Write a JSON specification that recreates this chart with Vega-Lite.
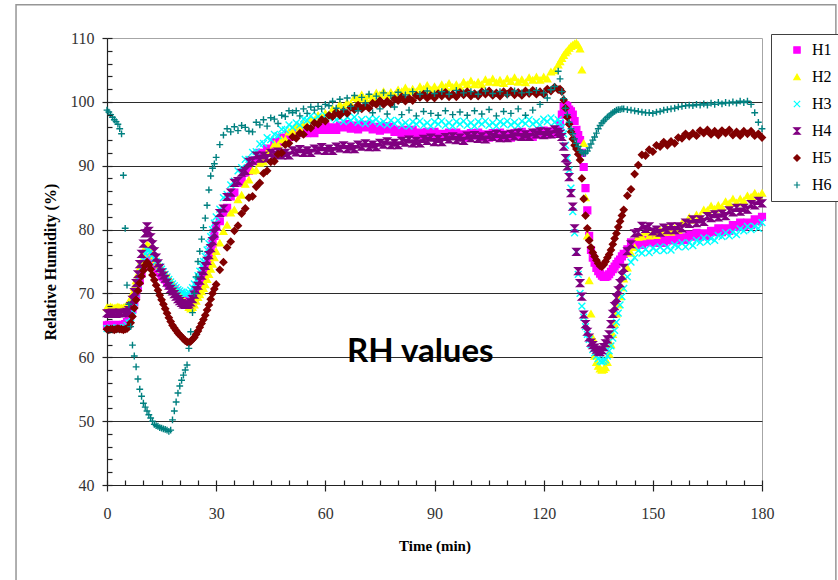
{
  "$schema": "https://vega.github.io/schema/vega-lite/v6.json",
  "width": 655,
  "height": 447,
  "autosize": {"type": "none"},
  "padding": {"left": 107, "top": 38, "right": 76, "bottom": 95},
  "background": "white",
  "config": {
    "view": {"stroke": "#a6a6a6", "strokeWidth": 1}
  },
  "datasets": {
    "readings": [
      {"t":0,"H1":65.0,"H2":67.8,"H3":64.5,"H4":66.9,"H5":64.4,"H6":98.7},
      {"t":0.5,"H1":65.1,"H2":67.7,"H3":64.5,"H4":66.8,"H5":64.3,"H6":98.4},
      {"t":1,"H1":65.0,"H2":67.9,"H3":64.6,"H4":66.9,"H5":64.4,"H6":98.0},
      {"t":1.5,"H1":64.9,"H2":67.8,"H3":64.5,"H4":67.0,"H5":64.4,"H6":97.6},
      {"t":2,"H1":65.0,"H2":67.7,"H3":64.4,"H4":66.9,"H5":64.3,"H6":97.2},
      {"t":2.5,"H1":65.1,"H2":67.8,"H3":64.5,"H4":66.8,"H5":64.4,"H6":96.9},
      {"t":3,"H1":65.0,"H2":67.9,"H3":64.6,"H4":66.9,"H5":64.5,"H6":96.5},
      {"t":3.5,"H1":64.9,"H2":67.8,"H3":64.5,"H4":67.0,"H5":64.4,"H6":95.8},
      {"t":4,"H1":65.0,"H2":67.7,"H3":64.5,"H4":66.9,"H5":64.4,"H6":95.0},
      {"t":4.5,"H1":65.1,"H2":67.8,"H3":64.6,"H4":66.9,"H5":64.3,"H6":88.5},
      {"t":5,"H1":65.2,"H2":67.9,"H3":64.7,"H4":67.0,"H5":64.4,"H6":80.2},
      {"t":5.5,"H1":65.5,"H2":68.1,"H3":65.0,"H4":67.1,"H5":64.5,"H6":71.3},
      {"t":6,"H1":65.9,"H2":68.5,"H3":65.4,"H4":67.4,"H5":64.8,"H6":68.3},
      {"t":6.5,"H1":66.6,"H2":69.2,"H3":66.2,"H4":68.0,"H5":65.4,"H6":64.8},
      {"t":7,"H1":67.5,"H2":70.0,"H3":67.3,"H4":69.0,"H5":66.4,"H6":61.9},
      {"t":7.5,"H1":68.6,"H2":71.0,"H3":68.6,"H4":70.2,"H5":67.7,"H6":60.2},
      {"t":8,"H1":69.8,"H2":72.0,"H3":70.0,"H4":71.6,"H5":69.0,"H6":58.5},
      {"t":8.5,"H1":70.9,"H2":73.0,"H3":71.5,"H4":73.0,"H5":70.4,"H6":56.6},
      {"t":9,"H1":72.0,"H2":74.0,"H3":72.8,"H4":74.6,"H5":71.6,"H6":55.0},
      {"t":9.5,"H1":73.1,"H2":75.1,"H3":74.0,"H4":76.2,"H5":72.7,"H6":53.9},
      {"t":10,"H1":74.2,"H2":76.2,"H3":75.2,"H4":77.8,"H5":73.6,"H6":52.8},
      {"t":10.5,"H1":75.0,"H2":77.1,"H3":76.2,"H4":79.4,"H5":74.4,"H6":52.2},
      {"t":11,"H1":75.6,"H2":77.6,"H3":76.8,"H4":80.5,"H5":74.9,"H6":51.6},
      {"t":11.5,"H1":75.5,"H2":77.4,"H3":76.8,"H4":79.8,"H5":74.5,"H6":51.0},
      {"t":12,"H1":75.2,"H2":77.0,"H3":76.5,"H4":78.8,"H5":73.8,"H6":50.5},
      {"t":12.5,"H1":74.8,"H2":76.4,"H3":76.0,"H4":77.7,"H5":72.9,"H6":50.0},
      {"t":13,"H1":74.5,"H2":75.9,"H3":75.5,"H4":76.6,"H5":72.1,"H6":49.5},
      {"t":13.5,"H1":74.1,"H2":75.3,"H3":75.0,"H4":75.6,"H5":71.3,"H6":49.3},
      {"t":14,"H1":73.8,"H2":74.8,"H3":74.6,"H4":74.7,"H5":70.5,"H6":49.2},
      {"t":14.5,"H1":73.3,"H2":74.3,"H3":74.2,"H4":74.0,"H5":69.7,"H6":49.0},
      {"t":15,"H1":72.8,"H2":73.8,"H3":73.8,"H4":73.3,"H5":69.0,"H6":48.9},
      {"t":15.5,"H1":72.5,"H2":73.4,"H3":73.4,"H4":72.8,"H5":68.3,"H6":48.8},
      {"t":16,"H1":72.2,"H2":73.0,"H3":73.0,"H4":72.3,"H5":67.6,"H6":48.7},
      {"t":16.5,"H1":71.8,"H2":72.6,"H3":72.6,"H4":71.7,"H5":66.9,"H6":48.6},
      {"t":17,"H1":71.5,"H2":72.3,"H3":72.2,"H4":71.2,"H5":66.2,"H6":48.4},
      {"t":17.5,"H1":71.2,"H2":71.9,"H3":71.8,"H4":70.7,"H5":65.6,"H6":48.6},
      {"t":18,"H1":70.9,"H2":71.5,"H3":71.5,"H4":70.3,"H5":65.0,"H6":50.2},
      {"t":18.5,"H1":70.6,"H2":71.0,"H3":71.2,"H4":69.9,"H5":64.6,"H6":51.6},
      {"t":19,"H1":70.3,"H2":70.6,"H3":70.9,"H4":69.5,"H5":64.2,"H6":53.0},
      {"t":19.5,"H1":70.0,"H2":70.2,"H3":70.6,"H4":69.1,"H5":63.8,"H6":54.4},
      {"t":20,"H1":69.8,"H2":69.9,"H3":70.4,"H4":68.8,"H5":63.5,"H6":55.5},
      {"t":20.5,"H1":69.6,"H2":69.4,"H3":70.2,"H4":68.5,"H5":63.2,"H6":56.4},
      {"t":21,"H1":69.4,"H2":69.0,"H3":70.0,"H4":68.3,"H5":62.9,"H6":57.2},
      {"t":21.5,"H1":69.2,"H2":68.6,"H3":69.9,"H4":68.2,"H5":62.6,"H6":58.0},
      {"t":22,"H1":69.1,"H2":68.2,"H3":70.0,"H4":68.2,"H5":62.4,"H6":58.8},
      {"t":22.5,"H1":69.1,"H2":67.8,"H3":70.2,"H4":68.3,"H5":62.3,"H6":61.4},
      {"t":23,"H1":69.3,"H2":67.6,"H3":70.5,"H4":68.6,"H5":62.5,"H6":64.0},
      {"t":23.5,"H1":69.6,"H2":67.8,"H3":70.9,"H4":69.1,"H5":62.8,"H6":67.0},
      {"t":24,"H1":70.0,"H2":68.2,"H3":71.5,"H4":69.8,"H5":63.1,"H6":70.0},
      {"t":24.5,"H1":70.5,"H2":68.8,"H3":72.1,"H4":70.5,"H5":63.6,"H6":72.6},
      {"t":25,"H1":71.0,"H2":69.4,"H3":72.8,"H4":71.2,"H5":64.1,"H6":75.0},
      {"t":25.5,"H1":71.6,"H2":69.8,"H3":73.5,"H4":72.0,"H5":64.7,"H6":76.6},
      {"t":26,"H1":72.3,"H2":70.3,"H3":74.3,"H4":72.8,"H5":65.3,"H6":78.5},
      {"t":26.5,"H1":72.9,"H2":70.8,"H3":75.0,"H4":73.5,"H5":65.9,"H6":80.3},
      {"t":27,"H1":73.6,"H2":71.4,"H3":75.8,"H4":74.3,"H5":66.6,"H6":81.8},
      {"t":27.5,"H1":74.5,"H2":72.2,"H3":76.8,"H4":75.1,"H5":67.4,"H6":83.8},
      {"t":28,"H1":75.5,"H2":73.0,"H3":77.8,"H4":76.0,"H5":68.2,"H6":86.2},
      {"t":28.5,"H1":76.6,"H2":73.8,"H3":78.9,"H4":77.1,"H5":69.1,"H6":88.4},
      {"t":29,"H1":77.8,"H2":74.6,"H3":80.0,"H4":78.2,"H5":70.0,"H6":89.6},
      {"t":29.5,"H1":79.0,"H2":75.6,"H3":81.0,"H4":79.4,"H5":70.7,"H6":90.3},
      {"t":30,"H1":80.4,"H2":76.6,"H3":82.0,"H4":80.6,"H5":71.4,"H6":91.3},
      {"t":31,"H1":81.3,"H2":77.9,"H3":83.2,"H4":82.6,"H5":73.7,"H6":93.3},
      {"t":32,"H1":82.7,"H2":79.7,"H3":85.0,"H4":83.3,"H5":74.9,"H6":94.8},
      {"t":33,"H1":83.4,"H2":80.7,"H3":85.5,"H4":85.1,"H5":77.2,"H6":95.8},
      {"t":34,"H1":85.2,"H2":82.6,"H3":87.0,"H4":85.8,"H5":78.1,"H6":95.3},
      {"t":35,"H1":85.8,"H2":83.1,"H3":87.6,"H4":87.3,"H5":79.8,"H6":96.1},
      {"t":36,"H1":87.3,"H2":84.7,"H3":89.2,"H4":87.6,"H5":80.6,"H6":95.5},
      {"t":37,"H1":87.6,"H2":85.4,"H3":89.7,"H4":88.9,"H5":82.5,"H6":96.3},
      {"t":38,"H1":88.9,"H2":87.1,"H3":91.0,"H4":89.2,"H5":83.3,"H6":96.0},
      {"t":39,"H1":89.2,"H2":87.8,"H3":91.0,"H4":90.6,"H5":85.0,"H6":95.4},
      {"t":40,"H1":90.7,"H2":89.2,"H3":92.1,"H4":90.8,"H5":85.2,"H6":95.3},
      {"t":41,"H1":90.9,"H2":89.3,"H3":92.2,"H4":91.6,"H5":86.7,"H6":96.8},
      {"t":42,"H1":92.0,"H2":90.4,"H3":93.4,"H4":91.1,"H5":87.3,"H6":96.4},
      {"t":43,"H1":91.8,"H2":90.6,"H3":93.5,"H4":91.6,"H5":88.8,"H6":97.2},
      {"t":44,"H1":92.7,"H2":92.1,"H3":94.4,"H4":91.2,"H5":89.2,"H6":96.2},
      {"t":45,"H1":92.6,"H2":92.3,"H3":94.1,"H4":92.0,"H5":90.6,"H6":97.5},
      {"t":46,"H1":93.7,"H2":93.4,"H3":94.9,"H4":91.7,"H5":90.7,"H6":97.3},
      {"t":47,"H1":93.7,"H2":93.2,"H3":94.7,"H4":92.2,"H5":91.8,"H6":96.6},
      {"t":48,"H1":94.4,"H2":94.1,"H3":95.7,"H4":91.6,"H5":92.0,"H6":97.9},
      {"t":49,"H1":94.1,"H2":94.1,"H3":95.6,"H4":92.0,"H5":93.3,"H6":97.7},
      {"t":50,"H1":94.8,"H2":95.3,"H3":96.4,"H4":91.6,"H5":93.5,"H6":98.6},
      {"t":51,"H1":94.5,"H2":95.3,"H3":96.0,"H4":92.4,"H5":94.5,"H6":98.3},
      {"t":52,"H1":95.4,"H2":96.2,"H3":96.7,"H4":92.1,"H5":94.3,"H6":98.6},
      {"t":53,"H1":95.1,"H2":95.8,"H3":96.4,"H4":92.6,"H5":95.1,"H6":97.8},
      {"t":54,"H1":95.7,"H2":96.5,"H3":97.3,"H4":92.0,"H5":94.9,"H6":98.9},
      {"t":55,"H1":95.1,"H2":96.3,"H3":97.1,"H4":92.4,"H5":96.0,"H6":98.2},
      {"t":56,"H1":95.5,"H2":97.2,"H3":97.8,"H4":92.0,"H5":95.9,"H6":99.2},
      {"t":57,"H1":95.1,"H2":97.1,"H3":97.2,"H4":92.7,"H5":96.7,"H6":98.7},
      {"t":58,"H1":95.9,"H2":97.9,"H3":97.7,"H4":92.4,"H5":96.5,"H6":99.3},
      {"t":59,"H1":95.6,"H2":97.5,"H3":97.2,"H4":92.9,"H5":97.2,"H6":98.9},
      {"t":60,"H1":96.2,"H2":98.2,"H3":97.9,"H4":92.3,"H5":97.0,"H6":99.6},
      {"t":61,"H1":95.6,"H2":97.9,"H3":97.5,"H4":92.7,"H5":97.9,"H6":99.4},
      {"t":62,"H1":96.0,"H2":98.9,"H3":97.9,"H4":92.3,"H5":97.7,"H6":100.1},
      {"t":63,"H1":95.6,"H2":98.8,"H3":97.2,"H4":93.0,"H5":98.4,"H6":99.0},
      {"t":64,"H1":96.3,"H2":99.6,"H3":97.5,"H4":92.7,"H5":97.9,"H6":100.4},
      {"t":65,"H1":96.0,"H2":99.2,"H3":96.9,"H4":93.2,"H5":98.5,"H6":98.8},
      {"t":66,"H1":96.5,"H2":99.9,"H3":97.6,"H4":92.6,"H5":98.2,"H6":100.6},
      {"t":67,"H1":95.8,"H2":99.7,"H3":97.1,"H4":93.0,"H5":99.1,"H6":99.3},
      {"t":68,"H1":96.3,"H2":100.7,"H3":97.6,"H4":92.6,"H5":98.8,"H6":101.0},
      {"t":69,"H1":95.7,"H2":100.5,"H3":96.8,"H4":93.3,"H5":99.5,"H6":98.6},
      {"t":70,"H1":96.4,"H2":101.1,"H3":97.2,"H4":93.0,"H5":98.9,"H6":100.7},
      {"t":71,"H1":96.0,"H2":100.5,"H3":96.6,"H4":93.5,"H5":99.4,"H6":99.8},
      {"t":72,"H1":96.4,"H2":101.0,"H3":97.3,"H4":92.9,"H5":99.0,"H6":101.2},
      {"t":73,"H1":95.7,"H2":100.6,"H3":96.9,"H4":93.3,"H5":99.8,"H6":98.3},
      {"t":74,"H1":96.1,"H2":101.4,"H3":97.3,"H4":92.9,"H5":99.6,"H6":100.9},
      {"t":75,"H1":95.5,"H2":101.1,"H3":96.6,"H4":93.6,"H5":100.2,"H6":98.9},
      {"t":76,"H1":96.2,"H2":101.6,"H3":96.9,"H4":93.3,"H5":99.6,"H6":101.4},
      {"t":77,"H1":95.7,"H2":101.0,"H3":96.4,"H4":93.8,"H5":100.1,"H6":98.1},
      {"t":78,"H1":96.1,"H2":101.5,"H3":97.1,"H4":93.2,"H5":99.7,"H6":101.0},
      {"t":79,"H1":95.3,"H2":101.1,"H3":96.6,"H4":93.6,"H5":100.5,"H6":99.2},
      {"t":80,"H1":95.6,"H2":101.9,"H3":97.1,"H4":93.2,"H5":100.2,"H6":101.5},
      {"t":81,"H1":95.0,"H2":101.6,"H3":96.3,"H4":93.9,"H5":100.8,"H6":98.0},
      {"t":82,"H1":95.6,"H2":102.2,"H3":96.7,"H4":93.6,"H5":100.1,"H6":101.1},
      {"t":83,"H1":95.1,"H2":101.6,"H3":96.2,"H4":94.1,"H5":100.6,"H6":98.7},
      {"t":84,"H1":95.6,"H2":102.0,"H3":96.9,"H4":93.5,"H5":100.2,"H6":101.6},
      {"t":85,"H1":94.8,"H2":101.6,"H3":96.5,"H4":93.9,"H5":101.0,"H6":97.8},
      {"t":86,"H1":95.2,"H2":102.4,"H3":97.0,"H4":93.5,"H5":100.7,"H6":101.2},
      {"t":87,"H1":94.6,"H2":102.0,"H3":96.3,"H4":94.2,"H5":101.2,"H6":98.5},
      {"t":88,"H1":95.3,"H2":102.6,"H3":96.7,"H4":93.9,"H5":100.6,"H6":101.7},
      {"t":89,"H1":94.9,"H2":101.9,"H3":96.2,"H4":94.4,"H5":101.0,"H6":98.2},
      {"t":90,"H1":95.3,"H2":102.4,"H3":96.9,"H4":93.7,"H5":100.6,"H6":101.3},
      {"t":91,"H1":94.6,"H2":101.9,"H3":96.5,"H4":94.2,"H5":101.3,"H6":97.9},
      {"t":92,"H1":95.0,"H2":102.7,"H3":97.0,"H4":93.7,"H5":100.9,"H6":101.6},
      {"t":93,"H1":94.5,"H2":102.3,"H3":96.3,"H4":94.5,"H5":101.5,"H6":98.6},
      {"t":94,"H1":95.2,"H2":102.9,"H3":96.7,"H4":94.1,"H5":100.8,"H6":101.2},
      {"t":95,"H1":94.8,"H2":102.3,"H3":96.2,"H4":94.6,"H5":101.2,"H6":98.0},
      {"t":96,"H1":95.2,"H2":102.7,"H3":96.9,"H4":94.0,"H5":100.8,"H6":101.8},
      {"t":97,"H1":94.5,"H2":102.3,"H3":96.5,"H4":94.4,"H5":101.5,"H6":98.4},
      {"t":98,"H1":94.9,"H2":103.1,"H3":97.0,"H4":93.9,"H5":101.1,"H6":101.4},
      {"t":99,"H1":94.4,"H2":102.7,"H3":96.3,"H4":94.7,"H5":101.6,"H6":97.9},
      {"t":100,"H1":95.1,"H2":103.3,"H3":96.7,"H4":94.3,"H5":100.9,"H6":101.6},
      {"t":101,"H1":94.7,"H2":102.7,"H3":96.2,"H4":94.8,"H5":101.3,"H6":98.6},
      {"t":102,"H1":95.2,"H2":103.1,"H3":96.9,"H4":94.2,"H5":100.9,"H6":101.2},
      {"t":103,"H1":94.5,"H2":102.7,"H3":96.5,"H4":94.6,"H5":101.6,"H6":98.1},
      {"t":104,"H1":94.9,"H2":103.5,"H3":97.0,"H4":94.1,"H5":101.2,"H6":101.7},
      {"t":105,"H1":94.4,"H2":103.1,"H3":96.3,"H4":94.8,"H5":101.7,"H6":98.8},
      {"t":106,"H1":95.1,"H2":103.6,"H3":96.7,"H4":94.5,"H5":101.0,"H6":101.3},
      {"t":107,"H1":94.7,"H2":103.0,"H3":96.2,"H4":95.0,"H5":101.4,"H6":97.8},
      {"t":108,"H1":95.2,"H2":103.4,"H3":96.9,"H4":94.3,"H5":100.9,"H6":101.6},
      {"t":109,"H1":94.5,"H2":102.9,"H3":96.5,"H4":94.8,"H5":101.6,"H6":98.5},
      {"t":110,"H1":94.9,"H2":103.6,"H3":97.0,"H4":94.3,"H5":101.2,"H6":101.1},
      {"t":111,"H1":94.4,"H2":103.2,"H3":96.4,"H4":95.0,"H5":101.7,"H6":98.2},
      {"t":112,"H1":95.1,"H2":103.8,"H3":96.8,"H4":94.6,"H5":101.1,"H6":101.7},
      {"t":113,"H1":94.8,"H2":103.1,"H3":96.3,"H4":95.2,"H5":101.5,"H6":98.9},
      {"t":114,"H1":95.3,"H2":103.5,"H3":97.0,"H4":94.5,"H5":101.0,"H6":101.4},
      {"t":115,"H1":94.6,"H2":103.0,"H3":96.6,"H4":94.9,"H5":101.7,"H6":97.9},
      {"t":116,"H1":95.0,"H2":103.8,"H3":97.2,"H4":94.5,"H5":101.3,"H6":101.5},
      {"t":117,"H1":94.5,"H2":103.4,"H3":96.5,"H4":95.2,"H5":101.8,"H6":98.7},
      {"t":118,"H1":95.2,"H2":103.9,"H3":96.9,"H4":94.9,"H5":101.2,"H6":101.8},
      {"t":119,"H1":94.9,"H2":103.4,"H3":96.4,"H4":95.4,"H5":101.6,"H6":99.6},
      {"t":120,"H1":95.5,"H2":103.9,"H3":97.3,"H4":94.8,"H5":101.2,"H6":101.4},
      {"t":121,"H1":94.9,"H2":103.6,"H3":96.9,"H4":95.3,"H5":102.0,"H6":100.6},
      {"t":122,"H1":95.4,"H2":104.7,"H3":97.5,"H4":94.9,"H5":101.7,"H6":101.9},
      {"t":123,"H1":95.0,"H2":104.9,"H3":96.8,"H4":95.7,"H5":102.3,"H6":102.4},
      {"t":124,"H1":95.6,"H2":105.8,"H3":97.2,"H4":95.3,"H5":101.9,"H6":104.8},
      {"t":124.5,"H1":96.5,"H2":106.3,"H3":96.8,"H4":95.0,"H5":102.0,"H6":103.6},
      {"t":125,"H1":98.0,"H2":106.8,"H3":96.0,"H4":94.5,"H5":101.6,"H6":101.6},
      {"t":125.5,"H1":99.2,"H2":107.3,"H3":95.0,"H4":93.0,"H5":100.3,"H6":100.5},
      {"t":126,"H1":99.5,"H2":107.7,"H3":93.2,"H4":91.2,"H5":99.0,"H6":99.0},
      {"t":126.5,"H1":99.3,"H2":108.0,"H3":91.2,"H4":89.9,"H5":97.6,"H6":98.0},
      {"t":127,"H1":98.8,"H2":108.4,"H3":89.3,"H4":88.2,"H5":96.5,"H6":96.8},
      {"t":127.5,"H1":98.5,"H2":108.7,"H3":86.5,"H4":85.7,"H5":95.3,"H6":95.8},
      {"t":128,"H1":98.0,"H2":108.9,"H3":82.8,"H4":83.6,"H5":94.2,"H6":95.0},
      {"t":128.5,"H1":97.0,"H2":109.1,"H3":79.5,"H4":80.2,"H5":93.2,"H6":94.2},
      {"t":129,"H1":95.6,"H2":109.2,"H3":76.5,"H4":76.5,"H5":92.6,"H6":93.5},
      {"t":129.5,"H1":94.8,"H2":108.9,"H3":73.0,"H4":73.5,"H5":91.8,"H6":93.0},
      {"t":130,"H1":94.0,"H2":108.3,"H3":70.0,"H4":71.6,"H5":90.9,"H6":92.4},
      {"t":130.5,"H1":92.0,"H2":105.0,"H3":68.0,"H4":69.5,"H5":88.0,"H6":92.1},
      {"t":131,"H1":89.8,"H2":93.5,"H3":66.3,"H4":66.7,"H5":84.8,"H6":91.9},
      {"t":131.5,"H1":86.5,"H2":85.0,"H3":64.8,"H4":65.2,"H5":82.2,"H6":92.0},
      {"t":132,"H1":83.0,"H2":79.0,"H3":63.6,"H4":64.0,"H5":80.2,"H6":92.3},
      {"t":132.5,"H1":79.0,"H2":72.0,"H3":62.8,"H4":63.1,"H5":78.3,"H6":92.8},
      {"t":133,"H1":76.8,"H2":66.8,"H3":62.0,"H4":62.3,"H5":77.2,"H6":93.4},
      {"t":133.5,"H1":75.6,"H2":63.0,"H3":61.2,"H4":61.9,"H5":76.4,"H6":94.0},
      {"t":134,"H1":74.8,"H2":60.2,"H3":60.7,"H4":61.5,"H5":75.8,"H6":94.5},
      {"t":134.5,"H1":74.0,"H2":59.2,"H3":60.2,"H4":61.2,"H5":75.2,"H6":95.1},
      {"t":135,"H1":73.5,"H2":58.6,"H3":59.8,"H4":60.9,"H5":74.7,"H6":95.8},
      {"t":135.5,"H1":73.1,"H2":58.2,"H3":59.4,"H4":60.8,"H5":74.3,"H6":96.3},
      {"t":136,"H1":72.8,"H2":58.0,"H3":59.3,"H4":61.1,"H5":74.2,"H6":96.7},
      {"t":136.5,"H1":72.6,"H2":58.1,"H3":59.4,"H4":61.6,"H5":74.5,"H6":97.0},
      {"t":137,"H1":72.6,"H2":58.4,"H3":59.6,"H4":62.2,"H5":75.0,"H6":97.3},
      {"t":137.5,"H1":72.7,"H2":59.2,"H3":60.2,"H4":62.8,"H5":75.6,"H6":97.6},
      {"t":138,"H1":73.0,"H2":60.5,"H3":61.0,"H4":63.6,"H5":76.1,"H6":97.8},
      {"t":138.5,"H1":73.4,"H2":62.0,"H3":61.8,"H4":65.2,"H5":76.8,"H6":98.1},
      {"t":139,"H1":73.8,"H2":63.6,"H3":63.0,"H4":66.8,"H5":77.7,"H6":98.3},
      {"t":139.5,"H1":74.2,"H2":65.2,"H3":64.2,"H4":68.0,"H5":78.6,"H6":98.5},
      {"t":140,"H1":74.6,"H2":66.8,"H3":65.5,"H4":69.3,"H5":79.4,"H6":98.7},
      {"t":140.5,"H1":75.0,"H2":68.2,"H3":66.9,"H4":70.5,"H5":80.4,"H6":98.8},
      {"t":141,"H1":75.3,"H2":69.5,"H3":68.2,"H4":71.6,"H5":81.3,"H6":98.8},
      {"t":141.5,"H1":75.8,"H2":70.9,"H3":69.5,"H4":72.8,"H5":82.2,"H6":98.9},
      {"t":142,"H1":76.2,"H2":72.3,"H3":70.8,"H4":74.0,"H5":83.1,"H6":98.9},
      {"t":143,"H1":76.9,"H2":74.0,"H3":72.6,"H4":76.6,"H5":85.3,"H6":98.8},
      {"t":144,"H1":78.0,"H2":76.3,"H3":74.9,"H4":77.7,"H5":86.3,"H6":98.7},
      {"t":145,"H1":77.6,"H2":77.2,"H3":75.6,"H4":79.4,"H5":88.7,"H6":98.6},
      {"t":146,"H1":78.1,"H2":78.8,"H3":76.7,"H4":79.6,"H5":90.1,"H6":98.5},
      {"t":147,"H1":77.6,"H2":78.9,"H3":76.3,"H4":80.6,"H5":91.7,"H6":98.4},
      {"t":148,"H1":78.4,"H2":79.6,"H3":76.9,"H4":80.1,"H5":91.6,"H6":98.3},
      {"t":149,"H1":78.0,"H2":79.0,"H3":76.4,"H4":80.5,"H5":92.5,"H6":98.3},
      {"t":150,"H1":78.5,"H2":79.5,"H3":77.1,"H4":79.7,"H5":92.2,"H6":98.2},
      {"t":151,"H1":77.9,"H2":79.1,"H3":76.7,"H4":80.0,"H5":93.2,"H6":98.4},
      {"t":152,"H1":78.3,"H2":79.9,"H3":77.3,"H4":79.5,"H5":93.0,"H6":98.5},
      {"t":153,"H1":77.9,"H2":79.6,"H3":76.7,"H4":80.3,"H5":93.7,"H6":98.7},
      {"t":154,"H1":78.6,"H2":80.2,"H3":77.2,"H4":79.9,"H5":93.2,"H6":98.8},
      {"t":155,"H1":78.3,"H2":79.6,"H3":76.8,"H4":80.5,"H5":93.8,"H6":98.9},
      {"t":156,"H1":78.9,"H2":80.2,"H3":77.6,"H4":79.9,"H5":93.5,"H6":99.0},
      {"t":157,"H1":78.3,"H2":79.9,"H3":77.3,"H4":80.5,"H5":94.4,"H6":99.2},
      {"t":158,"H1":78.8,"H2":81.0,"H3":77.9,"H4":80.2,"H5":94.3,"H6":99.3},
      {"t":159,"H1":78.4,"H2":81.0,"H3":77.3,"H4":81.1,"H5":95.0,"H6":99.4},
      {"t":160,"H1":79.2,"H2":81.9,"H3":77.9,"H4":80.9,"H5":94.6,"H6":99.5},
      {"t":161,"H1":78.9,"H2":81.5,"H3":77.5,"H4":81.6,"H5":95.1,"H6":99.4},
      {"t":162,"H1":79.5,"H2":82.3,"H3":78.3,"H4":81.0,"H5":94.7,"H6":99.6},
      {"t":163,"H1":78.9,"H2":82.1,"H3":78.0,"H4":81.6,"H5":95.5,"H6":99.5},
      {"t":164,"H1":79.4,"H2":83.1,"H3":78.7,"H4":81.2,"H5":95.1,"H6":99.7},
      {"t":165,"H1":79.0,"H2":83.0,"H3":78.1,"H4":82.1,"H5":95.6,"H6":99.5},
      {"t":166,"H1":79.8,"H2":83.7,"H3":78.6,"H4":81.8,"H5":94.9,"H6":99.8},
      {"t":167,"H1":79.6,"H2":83.2,"H3":78.3,"H4":82.4,"H5":95.4,"H6":99.6},
      {"t":168,"H1":80.2,"H2":83.8,"H3":79.1,"H4":81.9,"H5":94.8,"H6":99.9},
      {"t":169,"H1":79.6,"H2":83.5,"H3":78.9,"H4":82.5,"H5":95.5,"H6":99.7},
      {"t":170,"H1":80.2,"H2":84.4,"H3":79.5,"H4":82.1,"H5":95.1,"H6":99.9},
      {"t":171,"H1":79.8,"H2":84.1,"H3":79.0,"H4":83.0,"H5":95.6,"H6":99.8},
      {"t":172,"H1":80.7,"H2":84.8,"H3":79.6,"H4":82.7,"H5":94.8,"H6":100.0},
      {"t":173,"H1":80.4,"H2":84.2,"H3":79.2,"H4":83.4,"H5":95.3,"H6":99.8},
      {"t":174,"H1":81.1,"H2":84.8,"H3":80.1,"H4":82.8,"H5":94.7,"H6":100.1},
      {"t":175,"H1":80.5,"H2":84.5,"H3":79.8,"H4":83.4,"H5":95.4,"H6":99.9},
      {"t":176,"H1":81.1,"H2":85.3,"H3":80.5,"H4":83.1,"H5":95.0,"H6":100.1},
      {"t":177,"H1":80.7,"H2":85.1,"H3":80.0,"H4":84.0,"H5":95.4,"H6":99.6},
      {"t":178,"H1":81.6,"H2":85.7,"H3":80.5,"H4":83.8,"H5":94.7,"H6":98.3},
      {"t":179,"H1":81.3,"H2":85.2,"H3":80.2,"H4":84.5,"H5":95.0,"H6":96.8},
      {"t":180,"H1":82.0,"H2":85.7,"H3":81.1,"H4":84.1,"H5":94.4,"H6":95.8}
    ],
    "note": [{"t": 86.1, "rh": 59.3, "label": "RH values"}]
  },
  "layer": [
    {
      "description": "Chart-area frame",
      "data": {"values": [{}]},
      "mark": {"type": "rect", "filled": false, "stroke": "#969696", "strokeWidth": 1.5, "clip": false},
      "encoding": {
        "x": {"datum": -25, "type": "quantitative", "scale": {"domain": [0, 180], "nice": false, "zero": false}, "axis": null},
        "x2": {"datum": 200.3},
        "y": {"datum": 115.2, "type": "quantitative", "scale": {"domain": [40, 110], "nice": false, "zero": false}, "axis": null},
        "y2": {"datum": 18}
      }
    },
    {
      "data": {"name": "readings"},
      "transform": [{"fold": ["H1", "H2", "H3", "H4", "H5", "H6"], "as": ["series", "rh"]}],
      "mark": {"type": "point", "filled": true, "size": 46, "strokeWidth": 1.4, "opacity": 1},
      "encoding": {
        "x": {
          "field": "t", "type": "quantitative",
          "scale": {"domain": [0, 180], "nice": false, "zero": false},
          "axis": {
            "orient": "bottom", "values": [0, 30, 60, 90, 120, 150, 180], "grid": false,
            "tickSize": 6, "tickWidth": 1.2, "tickColor": "#222222", "domainColor": "#222222", "domainWidth": 1.2,
            "labelPadding": 14, "labelFlush": false,
            "labelFont": "Liberation Serif", "labelFontSize": 16, "labelColor": "#333333",
            "title": "Time (min)", "titleFont": "Liberation Serif", "titleFontSize": 15,
            "titleFontWeight": "bold", "titleColor": "#000000", "titlePadding": 17
          }
        },
        "y": {
          "field": "rh", "type": "quantitative",
          "scale": {"domain": [40, 110], "nice": false, "zero": false},
          "axis": {
            "orient": "left", "values": [40, 50, 60, 70, 80, 90, 100, 110],
            "grid": true, "gridWidth": 1.2,
            "gridColor": {"condition": {"test": "datum.value >= 110 || datum.value <= 40", "value": "transparent"}, "value": "#2b2b2b"},
            "tickSize": 5, "tickWidth": 1.2, "tickColor": "#222222", "domainColor": "#222222", "domainWidth": 1.2,
            "labelPadding": 8,
            "labelFont": "Liberation Serif", "labelFontSize": 16, "labelColor": "#333333",
            "title": "Relative Humidity (%)", "titleFont": "Liberation Serif", "titleFontSize": 16,
            "titleFontWeight": "bold", "titleColor": "#000000", "titlePadding": 12
          }
        },
        "shape": {
          "field": "series", "type": "nominal",
          "scale": {
            "domain": ["H1", "H2", "H3", "H4", "H5", "H6"],
            "range": ["square", "triangle-up", "M-1,-1L1,1M-1,1L1,-1", "M-1,-1L1,-1L0,0ZM-1,1L1,1L0,0Z", "diamond", "M-1,0L1,0M0,-1L0,1"]
          },
          "legend": {
            "orient": "none", "legendX": 664, "legendY": -4, "title": null,
            "padding": 8, "strokeColor": "#404040", "fillColor": "white",
            "labelFont": "Liberation Serif", "labelFontSize": 16, "labelColor": "#000000",
            "symbolSize": 40, "symbolStrokeWidth": 1.2, "rowPadding": 11,
            "symbolOffset": 10, "labelOffset": 7
          }
        },
        "fill": {
          "field": "series", "type": "nominal",
          "scale": {"domain": ["H1", "H2", "H3", "H4", "H5", "H6"], "range": ["#ff00ff", "#ffff00", "#00ffff", "#800080", "#800000", "#008080"]},
          "legend": {
            "orient": "none", "legendX": 664, "legendY": -4, "title": null,
            "padding": 8, "strokeColor": "#404040", "fillColor": "white",
            "labelFont": "Liberation Serif", "labelFontSize": 16, "labelColor": "#000000",
            "symbolSize": 40, "symbolStrokeWidth": 1.2, "rowPadding": 11,
            "symbolOffset": 10, "labelOffset": 7
          }
        },
        "stroke": {
          "field": "series", "type": "nominal",
          "scale": {"domain": ["H1", "H2", "H3", "H4", "H5", "H6"], "range": ["#ff00ff", "#ffff00", "#00ffff", "#800080", "#800000", "#008080"]},
          "legend": {
            "orient": "none", "legendX": 664, "legendY": -4, "title": null,
            "padding": 8, "strokeColor": "#404040", "fillColor": "white",
            "labelFont": "Liberation Serif", "labelFontSize": 16, "labelColor": "#000000",
            "symbolSize": 40, "symbolStrokeWidth": 1.2, "rowPadding": 11,
            "symbolOffset": 10, "labelOffset": 7
          }
        },
        "order": {"field": "series", "type": "ordinal"}
      }
    },
    {
      "data": {"name": "note"},
      "mark": {"type": "text", "font": "Lato", "fontSize": 33, "fontWeight": "bold", "align": "center", "baseline": "alphabetic", "color": "#000000"},
      "encoding": {
        "x": {
          "field": "t", "type": "quantitative",
          "scale": {"domain": [0, 180], "nice": false, "zero": false},
          "axis": {
            "orient": "bottom", "offset": -5, "zindex": 1, "values": [0,5,10,15,20,25,30,35,40,45,50,55,60,65,70,75,80,85,90,95,100,105,110,115,120,125,130,135,140,145,150,155,160,165,170,175,180],
            "tickSize": 5, "tickWidth": 1.2, "tickColor": "#222222", "labels": false, "domain": false, "grid": false, "title": null
          }
        },
        "y": {
          "field": "rh", "type": "quantitative",
          "scale": {"domain": [40, 110], "nice": false, "zero": false},
          "axis": {
            "orient": "left", "offset": -5, "zindex": 1, "values": [40,42,44,46,48,50,52,54,56,58,60,62,64,66,68,70,72,74,76,78,80,82,84,86,88,90,92,94,96,98,100,102,104,106,108,110],
            "tickSize": 5, "tickWidth": 1.2, "tickColor": "#222222", "labels": false, "domain": false, "grid": false, "title": null
          }
        },
        "text": {"field": "label"}
      }
    }
  ],
  "resolve": {
    "scale": {"x": "independent", "y": "independent"},
    "axis": {"x": "independent", "y": "independent"}
  }
}
